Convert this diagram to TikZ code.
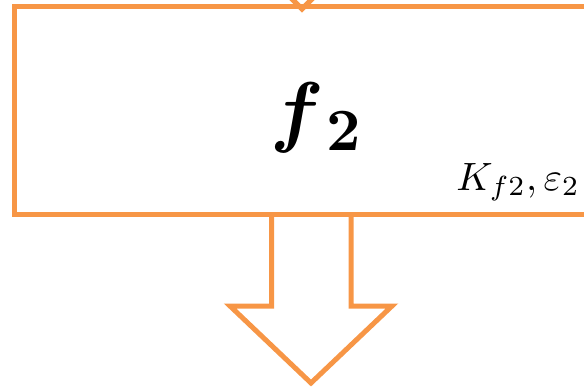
\documentclass[tikz,border=0pt]{standalone}
\usepackage{graphicx}
\usepackage{amsmath}
\usepackage{bm}
\usepackage{tikz}
\usetikzlibrary{positioning,calc}
\definecolor{fborange}{HTML}{F79646}
\tikzset{
  boxline/.style={draw=fborange,line width=5pt},
  blockarrow/.style={draw=fborange,line width=5pt,line join=miter},
}

\begin{document}
\begin{tikzpicture}[x=1pt,y=-1pt]
  \useasboundingbox (0,0) rectangle (584,389);
  \clip (0,0) rectangle (584,389);
  \draw[boxline] (14.5,6.5) rectangle (640,214.5);
  \coordinate (outbase) at (311,214.5);
  \node[inner sep=0pt] (f2name) at (316,118)
        {\scalebox{7.9}{$\bm{f}$}\hspace{2pt}\raisebox{-13pt}{\scalebox{6}{\bfseries 2}}};
  \node[inner sep=0pt,anchor=base east] (f2par) at (580,190)
        {\scalebox{3.95}{$K_{f2},\varepsilon_2$}};
  % incoming arrow, only its tip is seen
  \coordinate (intip) at (302,9);
  \draw[blockarrow] ($(intip)+(-25,-25)$) -- (intip) -- ++(25,-25);
  % outgoing arrow
  \draw[blockarrow] ($(outbase)+(-39.5,0)$) -- ++(0,91.5) -- ++(-41.5,0)
        -- (311,383) -- (392,306) -- ++(-41,0) -- ($(outbase)+(40,0)$);
\end{tikzpicture}
\end{document}
